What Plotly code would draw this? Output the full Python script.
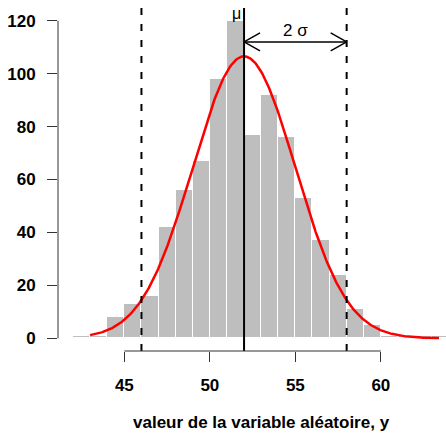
import numpy as np
import plotly.graph_objects as go

# Histogram counts, one bin per unit of y
bin_left = list(range(42, 64))
counts = [1, 1, 8, 13, 16, 42, 56, 67, 98, 120, 77, 92, 76, 53, 37, 24, 11, 5, 1, 1, 1, 1]

# Normal model drawn over the histogram
mu = 52
sigma = 3
n_obs = sum(counts)

x_ticks = [45, 50, 55, 60]
y_ticks = [0, 20, 40, 60, 80, 100, 120]
x_title = "valeur de la variable aléatoire, y"

FONT = "Liberation Sans, Arial, Helvetica, sans-serif"

centers = [b + 0.5 for b in bin_left]
xs = np.linspace(43, 63.4, 400)
dens = n_obs * np.exp(-0.5 * ((xs - mu) / sigma) ** 2) / (sigma * np.sqrt(2 * np.pi))

fig = go.Figure()
fig.add_trace(go.Bar(
    x=centers, y=counts, width=1.0,
    marker=dict(color="#BEBEBE", line=dict(color="white", width=1)),
    hoverinfo="skip",
))
fig.add_trace(go.Scatter(
    x=xs, y=dens, mode="lines",
    line=dict(color="#FF0000", width=2.5),
    hoverinfo="skip",
))

shapes = []
# mean and +/- 2 sigma guides, spanning the full plot height
shapes.append(dict(type="line", xref="x", yref="paper", x0=mu, x1=mu, y0=0, y1=1,
                   line=dict(color="black", width=2)))
for k in (-2, 2):
    xv = mu + k * sigma
    shapes.append(dict(type="line", xref="x", yref="paper", x0=xv, x1=xv, y0=0, y1=1,
                       line=dict(color="black", width=2, dash="7px,9px")))

# double-headed arrow spanning 2 sigma
arrow_y = 112
shapes.append(dict(type="line", xref="x", yref="y", x0=mu, x1=mu + 2 * sigma,
                   y0=arrow_y, y1=arrow_y, line=dict(color="black", width=1.5)))
for tip, direction in ((mu, 1), (mu + 2 * sigma, -1)):
    for s in (1, -1):
        shapes.append(dict(type="line", xref="x", yref="y",
                           xsizemode="pixel", ysizemode="pixel",
                           xanchor=tip, yanchor=arrow_y,
                           x0=0, x1=16 * direction, y0=0, y1=9 * s,
                           line=dict(color="black", width=1.5)))

# axis lines limited to the tick range
shapes.append(dict(type="line", xref="x", yref="paper", x0=x_ticks[0], x1=x_ticks[-1],
                   y0=0, y1=0, line=dict(color="#333333", width=1)))
shapes.append(dict(type="line", xref="paper", yref="y", x0=0, x1=0,
                   y0=y_ticks[0], y1=y_ticks[-1], line=dict(color="#333333", width=1)))

annotations = [
    dict(x=mu + sigma, y=arrow_y, xref="x", yref="y", text="2 σ", showarrow=False,
         xanchor="center", yanchor="bottom", font=dict(family=FONT, size=17, color="black")),
    dict(x=mu, y=122.7, xref="x", yref="y", text="μ", showarrow=False,
         xanchor="right", yanchor="middle", xshift=-1,
         font=dict(family=FONT, size=16, color="black")),
    # title centred on the plot region
    dict(x=(261.5 - 58) / (446 - 58), y=0, xref="paper", yref="paper",
         text="<b>" + x_title + "</b>", showarrow=False, xanchor="center", yanchor="top",
         yshift=-60, font=dict(family=FONT, size=17, color="black")),
]

fig.update_layout(
    width=446, height=433,
    margin=dict(l=58, r=0, t=8, b=82),
    paper_bgcolor="white", plot_bgcolor="white",
    showlegend=False, bargap=0,
    shapes=shapes, annotations=annotations,
    font=dict(family=FONT, size=17, color="black"),
    xaxis=dict(range=[41.12, 63.81], tickvals=x_ticks, ticktext=[f"<b>{v}</b>" for v in x_ticks],
               ticks="outside", ticklen=10, tickcolor="#333333", tickwidth=1,
               showline=False, showgrid=False, zeroline=False,
               ticklabelstandoff=9, tickfont=dict(family=FONT, size=17, color="black")),
    yaxis=dict(range=[-4.8, 124.8], tickvals=y_ticks, ticktext=[f"<b>{v}</b>" for v in y_ticks],
               ticks="outside", ticklen=10, tickcolor="#333333", tickwidth=1,
               showline=False, showgrid=False, zeroline=False,
               ticklabelstandoff=8, tickfont=dict(family=FONT, size=17, color="black")),
)

fig.write_html("out.html")
